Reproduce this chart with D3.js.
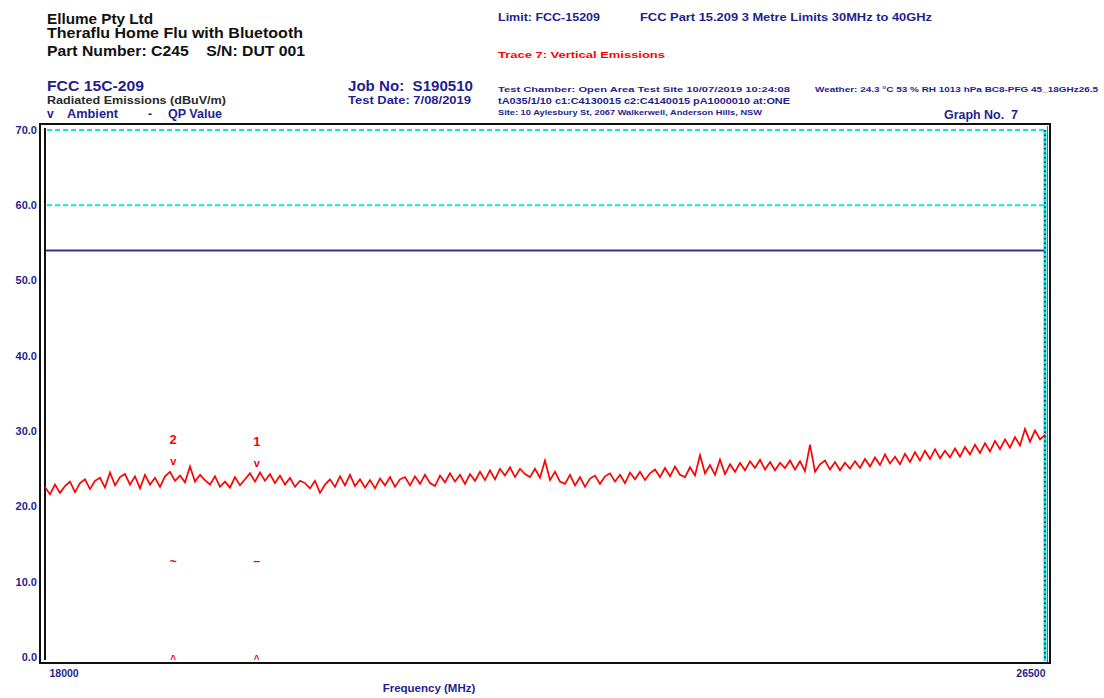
<!DOCTYPE html>
<html>
<head>
<meta charset="utf-8">
<script src="https://cdn.jsdelivr.net/npm/d3@7/dist/d3.min.js"></script>
<style>
  body { margin: 0; background: #fff; }
  text { font-family: "Liberation Sans", Arial, sans-serif; font-weight: bold; }
</style>
</head>
<body>
<svg id="chart" width="1104" height="698"></svg>
<script>
// sweep range (MHz) and level axis (dBuV/m)
var freqRange = [18000, 26500];
var levelRange = [0, 70];
var yTicks = [0, 10, 20, 30, 40, 50, 60, 70];
var xTicks = [18000, 26500];

// limit lines
var limitLevel = 54.0;       // FCC 15.209 average limit
var guideLevels = [60, 70];  // cyan dashed lines

// trace 7, vertical emissions left to right
var traceLevels = [
  22.6, 21.6, 22.9, 21.8, 22.7, 23.3, 21.9, 23.1, 23.6, 22.3, 23.4,
  23.8, 22.5, 24.5, 22.8, 23.9, 24.3, 22.9, 24.0, 22.4, 24.2, 22.9, 23.8, 22.6, 24.0, 24.6,
  23.4, 24.1, 23.2, 25.3, 23.3, 24.2, 23.5, 22.9, 24.0, 22.6, 23.3, 22.5, 23.9, 22.8, 23.6, 24.4, 23.3,
  24.5, 23.4, 24.3, 23.1, 24.1, 22.9, 23.8, 22.6, 23.4,
  23.1, 22.4, 23.4, 21.8, 22.9, 23.6, 22.6, 24.0, 22.8, 24.2, 22.7, 23.6, 22.5, 23.5, 22.4, 23.7, 22.8, 23.9, 22.6, 23.6,
  23.9, 22.8, 24.0, 23.0, 24.2, 23.1, 22.7, 24.1, 23.2, 24.4, 23.3, 24.2, 23.0, 24.3, 23.4, 24.6, 23.5, 24.8, 23.6, 25.0,
  24.1, 25.2, 23.9, 25.0, 24.3, 23.9, 25.0, 23.8, 26.1, 23.5, 24.6, 23.3,
  23.0, 24.2, 22.8, 23.9, 22.6, 23.7, 24.1, 23.0, 24.0, 24.4, 23.3, 24.2, 23.1, 24.5, 23.6, 24.6, 23.5, 24.4,
  24.9, 23.9, 25.1, 24.0, 25.3, 24.2, 23.9, 25.2, 24.1, 26.8, 24.4, 25.5, 24.2, 26.2, 24.3, 25.6, 24.6, 25.8, 24.8, 26.0,
  25.1, 26.2, 24.9, 25.9, 24.8, 25.8, 25.1, 26.1, 24.9, 26.0, 24.7, 28.2, 24.6, 25.6, 26.1, 24.9, 25.9, 24.8, 25.8, 25.0,
  26.0, 25.1, 26.3, 25.3, 26.5, 25.5, 26.9, 25.7, 26.6, 25.6, 27.0, 25.9, 27.2, 26.1, 27.4, 26.3, 27.6, 26.4, 27.4, 26.5,
  27.7, 26.6, 27.9, 26.9, 28.2, 27.1, 28.4, 27.3, 28.7, 27.6, 28.9, 27.8, 29.2, 28.1, 30.3, 28.6, 30.1, 28.9, 29.5
];

// markers
var markerIds = ["2", "1"];
var markerFreqs = [19090, 19800];
var markerPeaks = [24.3, 24.0];
var qpValues = [12.6, 12.8];
var qpSymbols = ["~", "\u2013"];
var avgValues = [0, 0];

var darkBlue = "#1f1f8f";
var red = "#ff0000";
var cyan = "#12e2ee";

var svg = d3.select("#chart");

var plot = { left: 45, right: 1045, top: 130, bottom: 657 };

var x = d3.scaleLinear().domain(freqRange).range([plot.left, plot.right]);
var y = d3.scaleLinear().domain(levelRange).range([plot.bottom, plot.top]);

// sweep points are evenly spaced over the span
var sweep = d3.scaleLinear().domain([0, traceLevels.length - 1]).range(freqRange);

// ---- header texts
function label(t, px, py, size, color, len) {
  var el = svg.append("text")
    .attr("x", px).attr("y", py)
    .style("font-size", size + "px")
    .style("fill", color)
    .text(t);
  if (len) el.attr("textLength", len).attr("lengthAdjust", "spacingAndGlyphs");
  return el;
}

label("Ellume Pty Ltd", 47, 24, 14, "#111", 106);
label("Theraflu Home Flu with Bluetooth", 47, 38, 14, "#111", 256);
label("Part Number: C245    S/N: DUT 001", 47, 56, 15, "#111", 258).style("white-space", "pre");

label("FCC 15C-209", 47, 91, 15, darkBlue, 97);
label("Radiated Emissions (dBuV/m)", 47, 104, 11.5, "#2a2a2a", 179);
label("v", 47, 118, 12, darkBlue);
label("Ambient", 67, 118, 12, darkBlue, 51);
label("-", 148, 118, 12, darkBlue);
label("QP Value", 168, 118, 12, darkBlue, 54);

label("Job No:  S190510", 348, 91, 15, darkBlue, 125).style("white-space", "pre");
label("Test Date: 7/08/2019", 348, 104, 11.5, darkBlue, 123);

label("Limit: FCC-15209", 498, 21, 11, darkBlue, 102);
label("FCC Part 15.209 3 Metre Limits 30MHz to 40GHz", 640, 21, 11, darkBlue, 292);
label("Trace 7: Vertical Emissions", 498, 58, 9, red, 167);

label("Test Chamber: Open Area Test Site  10/07/2019 10:24:08", 498, 92, 7.5, darkBlue, 292);
label("Weather: 24.3 \u00B0C 53 % RH 1013 hPa  BC8-PFG 45_18GHz26.5", 815, 92, 7.5, darkBlue, 283);
label("tA035/1/10 c1:C4130015  c2:C4140015 pA1000010 at:ONE", 498, 104, 8.5, darkBlue, 292);
label("Site: 10 Aylesbury St, 2067 Walkerwell, Anderson Hills, NSW", 498, 115, 7.5, darkBlue, 264);
label("Graph No.  7", 944, 119, 12, darkBlue, 74).style("white-space", "pre");

// ---- frame
svg.append("rect")
  .attr("x", 40).attr("y", 124)
  .attr("width", 1010).attr("height", 539)
  .attr("fill", "none").attr("stroke", "#111").attr("stroke-width", 2);
svg.append("line")
  .attr("x1", 1047.5).attr("x2", 1047.5).attr("y1", 126).attr("y2", 662)
  .attr("stroke", "#666").attr("stroke-width", 1);
svg.append("line")
  .attr("x1", plot.left).attr("x2", plot.left).attr("y1", 128).attr("y2", 660)
  .attr("stroke", "#111").attr("stroke-width", 2);

// ---- guide lines (cyan dashed)
svg.selectAll("line.guide")
  .data(guideLevels)
  .enter().append("line")
  .attr("class", "guide")
  .attr("x1", plot.left + 2).attr("x2", plot.right)
  .attr("y1", function(d) { return y(d); })
  .attr("y2", function(d) { return y(d); })
  .attr("stroke", cyan).attr("stroke-width", 2)
  .attr("stroke-dasharray", "5,3");

// right edge: cyan with black dots
svg.append("line")
  .attr("x1", plot.right).attr("x2", plot.right)
  .attr("y1", y(70)).attr("y2", 661)
  .attr("stroke", cyan).attr("stroke-width", 3);
svg.append("line")
  .attr("x1", plot.right).attr("x2", plot.right)
  .attr("y1", y(70)).attr("y2", 661)
  .attr("stroke", "#111").attr("stroke-width", 1.5)
  .attr("stroke-dasharray", "1.5,3");

// ---- limit line
svg.append("line")
  .attr("x1", plot.left + 1).attr("x2", plot.right - 1)
  .attr("y1", y(limitLevel)).attr("y2", y(limitLevel))
  .attr("stroke", "#35359a").attr("stroke-width", 2);

// ---- axes
var yAxis = d3.axisLeft(y)
  .tickValues(yTicks)
  .tickFormat(d3.format(".1f"))
  .tickSize(0)
  .tickPadding(8);

var gy = svg.append("g")
  .attr("transform", "translate(" + plot.left + ",0)")
  .call(yAxis);
gy.select(".domain").remove();
gy.selectAll("text")
  .style("font-size", "11px")
  .style("fill", darkBlue)
  .attr("dy", "0.3em");

var xAxis = d3.axisBottom(x)
  .tickValues(xTicks)
  .tickFormat(d3.format("d"))
  .tickSize(0)
  .tickPadding(6);

var gx = svg.append("g")
  .attr("transform", "translate(0," + 664 + ")")
  .call(xAxis);
gx.select(".domain").remove();
gx.selectAll("text")
  .style("font-size", "10.5px")
  .style("fill", darkBlue)
  .attr("text-anchor", function(d, i) { return i === 0 ? "start" : "end"; })
  .attr("dx", function(d, i) { return i === 0 ? 4 : 0; });

svg.append("text")
  .attr("x", 429).attr("y", 692)
  .attr("text-anchor", "middle")
  .style("font-size", "11.5px")
  .style("fill", darkBlue)
  .text("Frequency (MHz)");

// ---- trace
var line = d3.line()
  .x(function(d, i) { return x(sweep(i)); })
  .y(function(d) { return y(d); });

svg.append("path")
  .datum(traceLevels)
  .attr("d", line)
  .attr("fill", "none")
  .attr("stroke", red)
  .attr("stroke-width", 1.7)
  .attr("stroke-linejoin", "miter");

// ---- markers
var markers = markerIds.map(function(id, i) {
  return { id: id, f: markerFreqs[i], peak: markerPeaks[i], qp: qpValues[i], qpSym: qpSymbols[i], avg: avgValues[i] };
});

var mk = svg.selectAll("g.marker")
  .data(markers)
  .enter().append("g")
  .attr("class", "marker");

mk.append("text")
  .attr("x", function(d) { return x(d.f); })
  .attr("y", function(d) { return y(d.peak) - 30; })
  .attr("text-anchor", "middle")
  .style("font-size", "13px")
  .style("fill", red)
  .text(function(d) { return d.id; });

mk.append("text")
  .attr("x", function(d) { return x(d.f); })
  .attr("y", function(d) { return y(d.peak) - 9; })
  .attr("text-anchor", "middle")
  .style("font-size", "11px")
  .style("fill", red)
  .text("v");

mk.append("text")
  .attr("x", function(d) { return x(d.f); })
  .attr("y", function(d) { return y(d.qp) + 4; })
  .attr("text-anchor", "middle")
  .style("font-size", "12px")
  .style("fill", red)
  .text(function(d) { return d.qpSym; });

mk.append("text")
  .attr("x", function(d) { return x(d.f); })
  .attr("y", function(d) { return y(d.avg) + 6; })
  .attr("text-anchor", "middle")
  .style("font-size", "10px")
  .style("fill", red)
  .text("^");
</script>
</body>
</html>
